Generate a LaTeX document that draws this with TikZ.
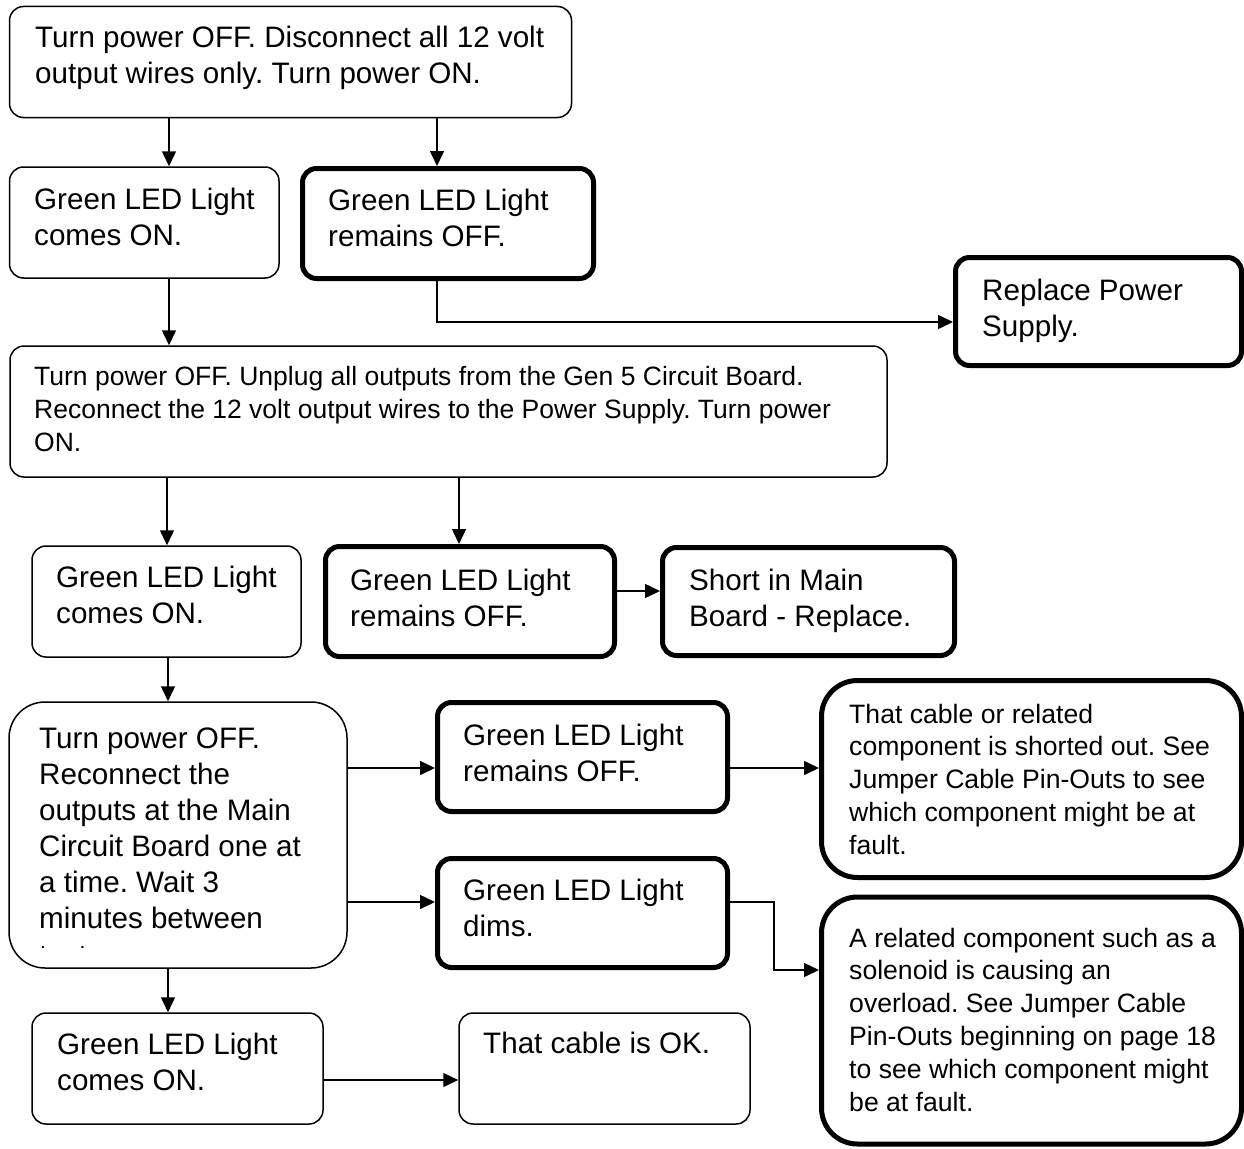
\documentclass[tikz,border=0pt]{standalone}
\usepackage{fontspec}
\setmainfont{Liberation Sans}
\usetikzlibrary{arrows.meta}
\frenchspacing
\newcommand\mytxt[3]{\parbox[t]{1000pt}{\fontsize{#1}{#2}\selectfont\frenchspacing\raggedright #3}}
\newcommand\mainT[1]{\mytxt{29.6}{36}{#1}}
\newcommand\smallT[1]{\mytxt{26.6}{32.8}{#1}}
\newcommand\bx[6]{\node[#1, inner sep=0pt, minimum width={#5-#3}, minimum height={#6-#4}] (#2) at ({(#3+#5)/2},{(#4+#6)/2}) {};}
\begin{document}
\begin{tikzpicture}[x=1pt,y=-1pt,
  thinbox/.style={draw, line width=1.5pt, rounded corners=14pt},
  thickbox/.style={draw, line width=5pt, rounded corners=14pt},
  bigthin/.style={draw, line width=1.5pt, rounded corners=36pt},
  bigthick/.style={draw, line width=5pt, rounded corners=36pt},
  arr/.style={-{Triangle[length=15pt,width=14pt]}, line width=1.5pt},
  lbl/.style={anchor=base west, inner sep=0pt}]
\fill[white] (0,0) rectangle (1244,1148);
\useasboundingbox (0,0) rectangle (1244,1148);

% boxes
\bx{thinbox}{b1}{9.5}{6.5}{571.5}{117.5}
\bx{thinbox}{b2}{9.5}{167}{279}{278}
\bx{thickbox}{b3}{302.5}{168.5}{593.5}{278.5}
\bx{thickbox}{b4}{955.5}{257.5}{1241.5}{365.5}
\bx{thinbox}{b5}{10}{346}{887}{477}
\bx{thinbox}{b6}{32}{546}{301}{657}
\bx{thickbox}{b7}{325.5}{546.5}{614.5}{656.5}
\bx{thickbox}{b8}{662.5}{547.5}{954.5}{655.5}
\bx{bigthin}{b9}{9}{702}{347}{968}
\bx{thickbox}{b10}{437.5}{702.5}{727.5}{811.5}
\bx{bigthick}{b11}{821.5}{680.5}{1241.5}{877.5}
\bx{thickbox}{b12}{437.5}{858.5}{727.5}{967.5}
\bx{bigthick}{b13}{821.5}{897}{1241.5}{1144}
\bx{thinbox}{b14}{32}{1013}{323}{1124}
\bx{thinbox}{b15}{459}{1013}{750}{1124}

% texts
\node[lbl] (t1) at (35,48) {\mainT{Turn power OFF. Disconnect all 12 volt\\output wires only. Turn power ON.}};
\node[lbl] (t2) at (34,209) {\mainT{Green LED Light\\comes ON.}};
\node[lbl] (t3) at (328,210) {\mainT{Green LED Light\\remains OFF.}};
\node[lbl] (t4) at (982,300) {\mainT{Replace Power\\Supply.}};
\node[lbl] (t5) at (34,385) {\mytxt{26.5}{33}{Turn power OFF. Unplug all outputs from the Gen 5 Circuit Board.\\Reconnect the 12 volt output wires to the Power Supply. Turn power\\ON.}};
\node[lbl] (t6) at (56,587) {\mainT{Green LED Light\\comes ON.}};
\node[lbl] (t7) at (350,590) {\mainT{Green LED Light\\remains OFF.}};
\node[lbl] (t8) at (689,590) {\mainT{Short in Main\\Board - Replace.}};
\node[lbl] (t9) at (39,748) {\mainT{Turn power OFF.\\Reconnect the\\outputs at the Main\\Circuit Board one at\\a time. Wait 3\\minutes between}};
\begin{scope}
  \clip (9,930) rectangle (347,947.5);
  \node[lbl] (t9b) at (39,965) {\mainT{tests.}};
\end{scope}
\node[lbl] (t10) at (463,745) {\mainT{Green LED Light\\remains OFF.}};
\node[lbl] (t11) at (849,723) {\smallT{That cable or related\\component is shorted out. See\\Jumper Cable Pin-Outs to see\\which component might be at\\fault.}};
\node[lbl] (t12) at (463,900) {\mainT{Green LED Light\\dims.}};
\node[lbl] (t13) at (849,947) {\smallT{A related component such as a\\solenoid is causing an\\overload. See Jumper Cable\\Pin-Outs beginning on page 18\\to see which component might\\be at fault.}};
\node[lbl] (t14) at (57,1054) {\mainT{Green LED Light\\comes ON.}};
\node[lbl] (t15) at (483,1053) {\mainT{That cable is OK.}};

% helper coordinates
\coordinate (cx169) at (169,0);
\coordinate (cx437) at (437,0);
\coordinate (cx167) at (167,0);
\coordinate (cx459) at (459,0);
\coordinate (cx168) at (168,0);
\coordinate (cx774) at (774,0);
\coordinate (cy322) at (0,322);
\coordinate (cy591) at (0,591);
\coordinate (cy768) at (0,768);
\coordinate (cy902) at (0,902);
\coordinate (cy970) at (0,970);
\coordinate (cy1080) at (0,1080);

% connectors
\draw[arr] (b1.south -| cx169) -- (b2.north -| cx169);
\draw[arr] (b1.south -| cx437) -- (b3.north -| cx437);
\draw[arr] (b2.south -| cx169) -- (b5.north -| cx169);
\draw[arr] (b3.south -| cx437) |- (b4.west |- cy322);
\draw[arr] (b5.south -| cx167) -- (b6.north -| cx167);
\draw[arr] (b5.south -| cx459) -- (b7.north -| cx459);
\draw[arr] (b7.east |- cy591) -- (b8.west |- cy591);
\draw[arr] (b6.south -| cx168) -- (b9.north -| cx168);
\draw[arr] (b9.east |- cy768) -- (b10.west |- cy768);
\draw[arr] (b10.east |- cy768) -- (b11.west |- cy768);
\draw[arr] (b9.east |- cy902) -- (b12.west |- cy902);
\draw[arr] (b12.east |- cy902) -| (cx774 |- cy970) -- (b13.west |- cy970);
\draw[arr] (b9.south -| cx168) -- (b14.north -| cx168);
\draw[arr] (b14.east |- cy1080) -- (b15.west |- cy1080);
\end{tikzpicture}
\end{document}
